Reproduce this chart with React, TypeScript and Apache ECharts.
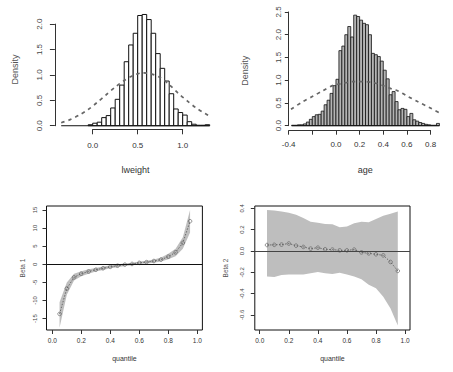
import React, { useEffect, useRef } from "react";
import * as echarts from "echarts";

// ---------- Panel 1: lweight histogram ----------
const lweightBinStart = -0.35;
const lweightBinWidth = 0.05;
const lweightDensity = [0, 0, 0, 0, 0, 0, 0.02, 0.05, 0.07, 0.16, 0.2, 0.35, 0.52, 0.8, 1.26, 1.59, 1.82, 2.17, 2.19, 2.09, 1.82, 1.42, 1.13, 0.88, 0.63, 0.33, 0.26, 0.21, 0.08, 0.03, 0.01, 0.01, 0.02];
const lweightCurveX = [-0.35, -0.25, -0.15, -0.05, 0.05, 0.15, 0.25, 0.35, 0.45, 0.55, 0.65, 0.75, 0.85, 0.95, 1.05, 1.15, 1.25, 1.3];
const lweightCurveY = [0.06, 0.12, 0.21, 0.32, 0.46, 0.61, 0.76, 0.89, 0.99, 1.04, 1.02, 0.95, 0.81, 0.64, 0.49, 0.35, 0.24, 0.19];
const lweightXTicks = ["0.0", "0.5", "1.0"];
const lweightYTicks = ["0.0", "0.5", "1.0", "1.5", "2.0"];

// ---------- Panel 2: age histogram ----------
const ageBinStart = -0.375;
const ageBinWidth = 0.025;
const ageDensity = [0.01, 0.01, 0.02, 0.02, 0.04, 0.08, 0.14, 0.2, 0.24, 0.25, 0.32, 0.46, 0.56, 0.71, 0.88, 1.02, 1.65, 1.75, 2.0, 2.18, 1.95, 2.43, 2.4, 2.32, 2.25, 2.22, 2.0, 1.59, 1.56, 1.52, 1.42, 1.22, 1.03, 0.68, 0.75, 0.53, 0.35, 0.38, 0.36, 0.2, 0.27, 0.13, 0.1, 0.07, 0.05, 0.03, 0.02, 0.01, 0.01, 0.05];
const ageCurveX = [-0.38, -0.28, -0.2, -0.11, -0.03, 0.06, 0.14, 0.22, 0.31, 0.39, 0.48, 0.52, 0.61, 0.69, 0.79, 0.87];
const ageCurveY = [0.36, 0.53, 0.64, 0.77, 0.88, 0.93, 0.97, 0.97, 0.95, 0.89, 0.8, 0.77, 0.64, 0.53, 0.4, 0.29];
const ageXTicks = ["-0.4", "", "0.0", "0.2", "0.4", "0.6", "0.8"];
const ageYTicks = ["0.0", "0.5", "1.0", "1.5", "2.0", "2.5"];

// ---------- Panels 3 & 4: quantile coefficients ----------
const quantiles = [0.05, 0.1, 0.15, 0.2, 0.25, 0.3, 0.35, 0.4, 0.45, 0.5, 0.55, 0.6, 0.65, 0.7, 0.75, 0.8, 0.85, 0.9, 0.95];
const beta1 = [-13.7, -6.7, -3.6, -2.6, -2.0, -1.5, -1.1, -0.7, -0.4, -0.1, 0.1, 0.4, 0.6, 0.9, 1.3, 2.1, 3.3, 5.9, 11.9];
const beta1Upper = [-10.5, -5.0, -2.6, -1.9, -1.4, -1.0, -0.6, -0.3, 0.0, 0.25, 0.45, 0.75, 1.0, 1.35, 1.9, 2.9, 4.3, 7.5, 15.0];
const beta1Lower = [-17.5, -8.4, -4.5, -3.3, -2.6, -2.0, -1.6, -1.1, -0.8, -0.45, -0.25, 0.05, 0.2, 0.45, 0.8, 1.4, 2.2, 4.3, 8.8];
const beta2 = [0.056, 0.058, 0.06, 0.07, 0.05, 0.038, 0.022, 0.031, 0.016, 0.013, 0.006, 0.006, 0.013, -0.013, -0.022, -0.031, -0.041, -0.103, -0.187];
const beta2Upper = [0.385, 0.38, 0.37, 0.36, 0.34, 0.31, 0.275, 0.266, 0.253, 0.25, 0.222, 0.23, 0.26, 0.275, 0.27, 0.3, 0.33, 0.35, 0.37];
const beta2Lower = [-0.24, -0.245, -0.225, -0.22, -0.22, -0.22, -0.21, -0.197, -0.21, -0.215, -0.205, -0.22, -0.24, -0.266, -0.316, -0.35, -0.43, -0.54, -0.7];
const quantileXTicks = ["0.0", "0.2", "0.4", "0.6", "0.8", "1.0"];
const beta1YTicks = ["-15", "-10", "-5", "0", "5", "10", "15"];
const beta2YTicks = ["-0.6", "-0.4", "-0.2", "0.0", "0.2", "0.4"];

const FONT = "Liberation Sans, Arial, sans-serif";

type Panel = {
  left: number; top: number; width: number; height: number;
  xMin: number; xMax: number; yMin: number; yMax: number;
};

const P1: Panel = { left: 54.9, top: 9.9, width: 161.1, height: 119.4, xMin: -0.42, xMax: 1.37, yMin: -0.07, yMax: 2.28 };
const P2: Panel = { left: 288.3, top: 10.6, width: 154.1, height: 120.1, xMin: -0.403, xMax: 0.9, yMin: -0.11, yMax: 2.53 };
const P3: Panel = { left: 46.5, top: 206, width: 155.9, height: 124, xMin: -0.04, xMax: 1.035, yMin: -18.15, yMax: 16.1 };
const P4: Panel = { left: 254.8, top: 206, width: 155.2, height: 124, xMin: -0.034, xMax: 1.034, yMin: -0.742, yMax: 0.4225 };

function mainGrid(p: Panel, box: boolean) {
  return {
    left: p.left, top: p.top, width: p.width, height: p.height,
    show: box, borderColor: "#111", borderWidth: 1, backgroundColor: "transparent",
    containLabel: false, outerBoundsMode: "none",
  };
}
function xAxisGrid(p: Panel, a: number, b: number) {
  const s = p.width / (p.xMax - p.xMin);
  return { left: p.left + (a - p.xMin) * s, width: (b - a) * s, top: p.top + p.height - 1, height: 1, containLabel: false, outerBoundsMode: "none" };
}
function yAxisGrid(p: Panel, a: number, b: number) {
  const s = p.height / (p.yMax - p.yMin);
  return { left: p.left, width: 1, top: p.top + (p.yMax - b) * s, height: (b - a) * s, containLabel: false, outerBoundsMode: "none" };
}

function tickFormatter(labels: string[], a: number, step: number) {
  return (v: number) => {
    const i = Math.round((v - a) / step);
    return labels[i] ?? "";
  };
}

function mainXAxis(gi: number, p: Panel, name: string, gap: number, size: number) {
  return {
    gridIndex: gi, type: "value", min: p.xMin, max: p.xMax,
    axisLine: { show: false }, axisTick: { show: false }, axisLabel: { show: false }, splitLine: { show: false },
    name, nameLocation: "middle", nameGap: gap,
    nameTextStyle: { fontFamily: FONT, fontSize: size, color: "#333" },
  };
}
function mainYAxis(gi: number, p: Panel, name: string, gap: number, size: number) {
  return {
    gridIndex: gi, type: "value", min: p.yMin, max: p.yMax,
    axisLine: { show: false }, axisTick: { show: false }, axisLabel: { show: false }, splitLine: { show: false },
    name, nameLocation: "middle", nameGap: gap,
    nameTextStyle: { fontFamily: FONT, fontSize: size, color: "#555" },
  };
}
function tickXAxis(gi: number, a: number, b: number, step: number, labels: string[], margin: number, size: number, tickLen: number, showLine: boolean) {
  return {
    gridIndex: gi, type: "value", min: a, max: b, interval: step, position: "bottom",
    axisLine: { show: showLine, lineStyle: { color: "#333", width: 1 } },
    axisTick: { show: true, inside: false, length: tickLen, lineStyle: { color: "#333", width: 1 } },
    axisLabel: { show: true, margin, formatter: tickFormatter(labels, a, step), fontFamily: FONT, fontSize: size, color: "#333", showMinLabel: true, showMaxLabel: true },
    splitLine: { show: false },
  };
}
function tickYAxis(gi: number, a: number, b: number, step: number, labels: string[], margin: number, size: number, tickLen: number, showLine: boolean) {
  return {
    gridIndex: gi, type: "value", min: a, max: b, interval: step, position: "left",
    axisLine: { show: showLine, lineStyle: { color: "#333", width: 1 } },
    axisTick: { show: true, inside: false, length: tickLen, lineStyle: { color: "#333", width: 1 } },
    axisLabel: { show: true, margin, rotate: 90, formatter: tickFormatter(labels, a, step), fontFamily: FONT, fontSize: size, color: "#444", showMinLabel: true, showMaxLabel: true },
    splitLine: { show: false },
  };
}
function hiddenAxis(gi: number) {
  return { gridIndex: gi, type: "value", show: false, min: 0, max: 1 };
}

function histSeries(gi: number, start: number, width: number, dens: number[], fill: string, strokeW: number) {
  const data = dens.map((h, i) => [start + i * width, start + (i + 1) * width, h]);
  return {
    type: "custom", xAxisIndex: gi, yAxisIndex: gi, clip: true,
    encode: { x: [0, 1], y: 2 },
    data,
    renderItem: (params: any, api: any) => {
      const x0 = api.value(0), x1 = api.value(1), h = api.value(2);
      if (!(h > 0)) return null;
      const p0 = api.coord([x0, h]);
      const p1 = api.coord([x1, 0]);
      return {
        type: "rect",
        shape: { x: p0[0], y: p0[1], width: p1[0] - p0[0], height: p1[1] - p0[1] },
        style: { fill, stroke: "#111", lineWidth: strokeW },
      };
    },
  };
}
function baselineSeries(gi: number, start: number, width: number, dens: number[]) {
  return {
    type: "line", xAxisIndex: gi, yAxisIndex: gi, symbol: "none",
    data: [[start, 0], [start + dens.length * width, 0]],
    lineStyle: { color: "#111", width: 1 }, z: 3,
  };
}
function curveSeries(gi: number, xs: number[], ys: number[]) {
  return {
    type: "line", xAxisIndex: gi, yAxisIndex: gi, symbol: "none", smooth: 0.3,
    data: xs.map((x, i) => [x, ys[i]]),
    lineStyle: { color: "#666", width: 1.7, type: [3.5, 4] }, z: 4,
  };
}
function bandSeries(gi: number, q: number[], lo: number[], up: number[]) {
  return {
    type: "custom", xAxisIndex: gi, yAxisIndex: gi, clip: true,
    encode: { x: 0, y: [1, 2] },
    data: q.map((x, i) => [x, lo[i], up[i]]),
    renderItem: (params: any, api: any) => {
      if (params.dataIndex !== 0) return null;
      const pts: number[][] = [];
      for (let i = 0; i < q.length; i++) pts.push(api.coord([q[i], up[i]]));
      for (let i = q.length - 1; i >= 0; i--) pts.push(api.coord([q[i], lo[i]]));
      return { type: "polygon", shape: { points: pts }, style: { fill: "#bebebe" } };
    },
    z: 1,
  };
}
function pointSeries(gi: number, q: number[], vals: number[], zeroColor: string) {
  return {
    type: "line", xAxisIndex: gi, yAxisIndex: gi,
    data: q.map((x, i) => [x, vals[i]]),
    symbol: "circle", symbolSize: 3.6,
    itemStyle: { color: "rgba(0,0,0,0)", borderColor: "#555", borderWidth: 0.6 },
    lineStyle: { color: "#555", width: 0.8, type: [1.5, 1.5] },
    markLine: {
      silent: true, symbol: ["none", "none"], label: { show: false },
      lineStyle: { color: zeroColor, width: 1.2, type: "solid" },
      data: [{ yAxis: 0 }],
    },
    z: 3,
  };
}

export default function App() {
  const ref = useRef<HTMLDivElement>(null);
  useEffect(() => {
    if (!ref.current) return;
    const chart = echarts.init(ref.current, undefined, { renderer: "svg" });
    const grids = [
      mainGrid(P1, false), mainGrid(P2, false), mainGrid(P3, true), mainGrid(P4, true),
      xAxisGrid(P1, 0, 1), yAxisGrid(P1, 0, 2),
      xAxisGrid(P2, -0.4, 0.8), yAxisGrid(P2, 0, 2.5),
      xAxisGrid(P3, 0, 1), yAxisGrid(P3, -15, 15),
      xAxisGrid(P4, 0, 1), yAxisGrid(P4, -0.6, 0.4),
    ];
    const xAxes = [
      mainXAxis(0, P1, "lweight", 36, 9),
      mainXAxis(1, P2, "age", 34.5, 9),
      mainXAxis(2, P3, "quantile", 25, 7),
      mainXAxis(3, P4, "quantile", 25, 7),
      tickXAxis(4, 0, 1, 0.5, lweightXTicks, 12, 8, 5, true), hiddenAxis(5),
      tickXAxis(6, -0.4, 0.8, 0.2, ageXTicks, 10, 8, 4, true), hiddenAxis(7),
      tickXAxis(8, 0, 1, 0.2, quantileXTicks, 7, 6.5, 4, false), hiddenAxis(9),
      tickXAxis(10, 0, 1, 0.2, quantileXTicks, 7, 6.5, 4, false), hiddenAxis(11),
    ];
    const yAxes = [
      mainYAxis(0, P1, "Density", 35, 9),
      mainYAxis(1, P2, "Density", 39, 9),
      mainYAxis(2, P3, "Beta 1", 21, 6.5),
      mainYAxis(3, P4, "Beta 2", 26, 6.5),
      hiddenAxis(4), tickYAxis(5, 0, 2, 0.5, lweightYTicks, 11, 8, 5, true),
      hiddenAxis(6), tickYAxis(7, 0, 2.5, 0.5, ageYTicks, 6, 8, 3.5, true),
      hiddenAxis(8), tickYAxis(9, -15, 15, 5, beta1YTicks, 8.5, 6, 4, false),
      hiddenAxis(10), tickYAxis(11, -0.6, 0.4, 0.2, beta2YTicks, 9.5, 6, 4, false),
    ];
    const series = [
      histSeries(0, lweightBinStart, lweightBinWidth, lweightDensity, "#ffffff", 1),
      baselineSeries(0, lweightBinStart, lweightBinWidth, lweightDensity),
      curveSeries(0, lweightCurveX, lweightCurveY),
      histSeries(1, ageBinStart, ageBinWidth, ageDensity, "#b4b4b4", 0.8),
      baselineSeries(1, ageBinStart, ageBinWidth, ageDensity),
      curveSeries(1, ageCurveX, ageCurveY),
      bandSeries(2, quantiles, beta1Lower, beta1Upper),
      pointSeries(2, quantiles, beta1, "#111"),
      bandSeries(3, quantiles, beta2Lower, beta2Upper),
      pointSeries(3, quantiles, beta2, "#444"),
    ];
    chart.setOption({
      animation: false,
      backgroundColor: "#ffffff",
      textStyle: { fontFamily: FONT },
      grid: grids,
      xAxis: xAxes,
      yAxis: yAxes,
      series,
    } as any);
    return () => chart.dispose();
  }, []);
  return <div ref={ref} style={{ position: "absolute", left: 0, top: 0, width: 453, height: 372 }} />;
}
